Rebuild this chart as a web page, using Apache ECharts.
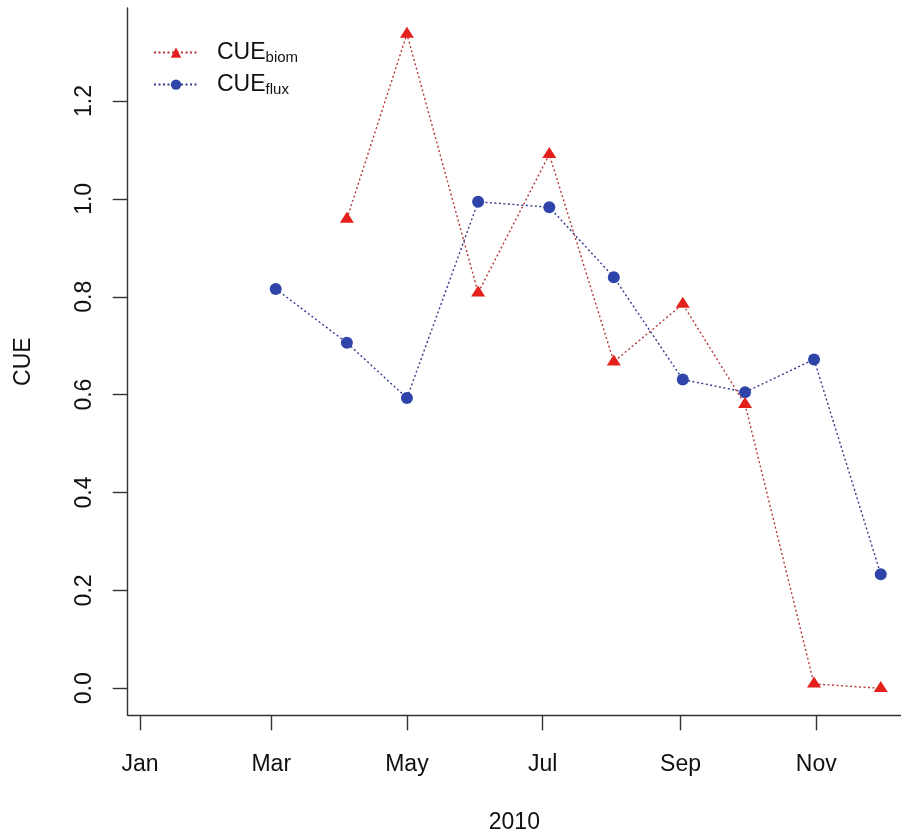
<!DOCTYPE html>
<html>
<head>
<meta charset="utf-8">
<script src="https://cdn.jsdelivr.net/npm/echarts@6/dist/echarts.min.js"></script>
<style>
html,body{margin:0;padding:0;background:#fff;}
#main{width:901px;height:834px;}
</style>
</head>
<body>
<div id="main"></div>
<script>
// day of year (Jan 1 = 0) of each sampling date, 2010
var biomDays = [93, 120, 152, 184, 213, 244, 272, 303, 333];
var biomCUE  = [0.959, 1.337, 0.808, 1.091, 0.667, 0.785, 0.580, 0.009, 0.000];
var fluxDays = [61, 93, 120, 152, 184, 213, 244, 272, 303, 333];
var fluxCUE  = [0.816, 0.706, 0.593, 0.994, 0.983, 0.840, 0.631, 0.605, 0.672, 0.233];
// x tick positions (first of month) and labels
var monthTickDays = [0, 59, 120, 181, 243, 304];
var monthTickLabels = ['Jan', 'Mar', 'May', 'Jul', 'Sep', 'Nov'];
var yTicks = [0, 0.2, 0.4, 0.6, 0.8, 1.0, 1.2];

function zip(xs, ys) { return xs.map(function (x, i) { return [x, ys[i]]; }); }

var FONT = '"Liberation Sans", Arial, Helvetica, sans-serif';
var chart = echarts.init(document.getElementById('main'), null, {renderer: 'canvas'});

var option = {
  animation: false,
  backgroundColor: '#ffffff',
  grid: {left: 127.7, top: 8, right: 0, bottom: 118.7, containLabel: false, outerBoundsMode: 'none'},
  xAxis: {
    type: 'value',
    min: -5.53, max: 342.1,
    name: '2010', nameLocation: 'middle', nameGap: 96,
    nameTextStyle: {fontFamily: FONT, fontSize: 23, color: '#111'},
    axisLine: {show: true, onZero: false, lineStyle: {color: '#333', width: 1.4}},
    axisTick: {show: true, length: 15, lineStyle: {color: '#333', width: 1.4}, customValues: monthTickDays},
    axisLabel: {
      show: true, margin: 38, fontFamily: FONT, fontSize: 23, color: '#111',
      customValues: monthTickDays,
      formatter: function (v) { var i = monthTickDays.indexOf(Math.round(v)); return i >= 0 ? monthTickLabels[i] : ''; }
    },
    splitLine: {show: false}
  },
  yAxis: {
    type: 'value',
    min: -0.0552, max: 1.39,
    name: 'CUE', nameLocation: 'middle', nameGap: 93, nameRotate: 90,
    nameTextStyle: {fontFamily: FONT, fontSize: 23, color: '#111'},
    axisLine: {show: true, onZero: false, lineStyle: {color: '#333', width: 1.4}},
    axisTick: {show: true, length: 15, lineStyle: {color: '#333', width: 1.4}, customValues: yTicks},
    axisLabel: {
      show: true, margin: 32, rotate: 90, fontFamily: FONT, fontSize: 23, color: '#111',
      customValues: yTicks,
      formatter: function (v) { return v.toFixed(1); }
    },
    splitLine: {show: false}
  },
  legend: {
    orient: 'vertical',
    left: 148, top: 36,
    itemWidth: 44, itemHeight: 13, itemGap: 7.6,
    data: ['biom', 'flux'],
    formatter: function (name) { return '{a|CUE}{b|' + name + '}'; },
    textStyle: {
      rich: {
        a: {fontFamily: FONT, fontSize: 23, color: '#111', padding: [0, 0, 0, 14], lineHeight: 26},
        b: {fontFamily: FONT, fontSize: 15, color: '#111', verticalAlign: 'bottom', lineHeight: 20}
      }
    }
  },
  series: [
    {
      name: 'biom', type: 'line',
      data: zip(biomDays, biomCUE),
      symbol: 'triangle', symbolSize: [14, 11], symbolOffset: [0, -1.8],
      itemStyle: {color: '#e3201b'},
      lineStyle: {color: '#b8383a', width: 1.4, type: [2, 2.5]},
      z: 3
    },
    {
      name: 'flux', type: 'line',
      data: zip(fluxDays, fluxCUE),
      symbol: 'circle', symbolSize: 12,
      itemStyle: {color: '#2f44a8'},
      lineStyle: {color: '#343a8c', width: 1.4, type: [2, 2.5]},
      z: 2
    }
  ]
};
chart.setOption(option);
</script>
</body>
</html>
